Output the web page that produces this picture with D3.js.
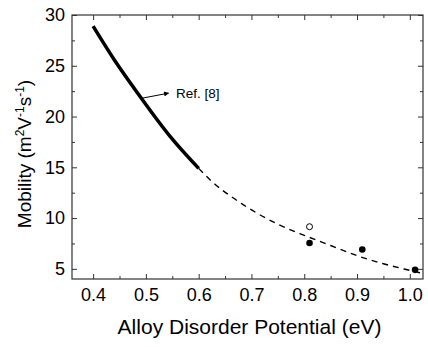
<!DOCTYPE html>
<html>
<head>
<meta charset="utf-8">
<script src="https://cdn.jsdelivr.net/npm/d3@7"></script>
<style>
  body { margin: 0; background: #fff; }
  text { font-family: "Liberation Sans", Arial, sans-serif; fill: #000; }
</style>
</head>
<body>
<div id="chart"></div>
<script>
// values
var refX = [0.40, 0.44, 0.49, 0.545, 0.60];
var refY = [28.9, 25.6, 21.9, 18.1, 14.9];

var fitX = [0.60, 0.625, 0.665, 0.71, 0.75, 0.80, 0.85, 0.90, 0.95, 1.00, 1.02];
var fitY = [14.9, 13.6, 12.0, 10.5, 9.4, 8.3, 7.3, 6.3, 5.5, 4.85, 4.6];

var filledX = [0.81, 0.91, 1.01];
var filledY = [7.55, 6.9, 4.9];
var openX = [0.81];
var openY = [9.15];

var xTicks = [0.4, 0.5, 0.6, 0.7, 0.8, 0.9, 1.0];
var xMinor = [0.45, 0.55, 0.65, 0.75, 0.85, 0.95];
var yTicks = [5, 10, 15, 20, 25, 30];
var yMinor = [7.5, 12.5, 17.5, 22.5, 27.5];

var W = 428, H = 347;
var pL = 72, pR = 423, pT = 15, pB = 279;

var svg = d3.select("#chart").append("svg")
  .attr("width", W).attr("height", H);

var x = d3.scaleLinear().domain([0.36, 1.025]).range([pL, pR]);
var y = d3.scaleLinear().domain([4, 30]).range([pB, pT]);

// minor ticks first, then major (all pointing inward)
var gx = svg.append("g").attr("transform", "translate(0," + pB + ")");
gx.call(d3.axisBottom(x).tickValues(xMinor).tickSizeInner(-3).tickSizeOuter(0).tickFormat(""));
var gx2 = svg.append("g").attr("transform", "translate(0," + pB + ")");
gx2.call(d3.axisBottom(x).tickValues(xTicks).tickSizeInner(-5).tickSizeOuter(0).tickPadding(9).tickFormat(d3.format(".1f")));

var gt = svg.append("g").attr("transform", "translate(0," + pT + ")");
gt.call(d3.axisTop(x).tickValues(xMinor).tickSizeInner(-3).tickSizeOuter(0).tickFormat(""));
var gt2 = svg.append("g").attr("transform", "translate(0," + pT + ")");
gt2.call(d3.axisTop(x).tickValues(xTicks).tickSizeInner(-5).tickSizeOuter(0).tickFormat(""));

var gy = svg.append("g").attr("transform", "translate(" + pL + ",0)");
gy.call(d3.axisLeft(y).tickValues(yMinor).tickSizeInner(-3).tickSizeOuter(0).tickFormat(""));
var gy2 = svg.append("g").attr("transform", "translate(" + pL + ",0)");
gy2.call(d3.axisLeft(y).tickValues(yTicks).tickSizeInner(-5).tickSizeOuter(0).tickPadding(7).tickFormat(d3.format("d")));

var gr = svg.append("g").attr("transform", "translate(" + pR + ",0)");
gr.call(d3.axisRight(y).tickValues(yMinor).tickSizeInner(-3).tickSizeOuter(0).tickFormat(""));
var gr2 = svg.append("g").attr("transform", "translate(" + pR + ",0)");
gr2.call(d3.axisRight(y).tickValues(yTicks).tickSizeInner(-5).tickSizeOuter(0).tickFormat(""));

svg.selectAll(".domain").remove();
svg.selectAll(".tick line").attr("stroke", "#333").attr("stroke-width", 1);
svg.selectAll(".tick text").style("font-size", "18px").attr("fill", "#000");

svg.append("rect")
  .attr("x", pL).attr("y", pT)
  .attr("width", pR - pL).attr("height", pB - pT)
  .attr("fill", "none").attr("stroke", "#333").attr("stroke-width", 1.2);

var line = d3.line()
  .x(function (d) { return x(d[0]); })
  .y(function (d) { return y(d[1]); })
  .curve(d3.curveNatural);

svg.append("path")
  .datum(fitX.map(function (v, i) { return [v, fitY[i]]; }))
  .attr("d", line.curve(d3.curveMonotoneX))
  .attr("fill", "none").attr("stroke", "#000")
  .attr("stroke-width", 1.4).attr("stroke-dasharray", "6,5");

svg.append("path")
  .datum(refX.map(function (v, i) { return [v, refY[i]]; }))
  .attr("d", line.curve(d3.curveNatural))
  .attr("fill", "none").attr("stroke", "#000")
  .attr("stroke-width", 3.5);

svg.selectAll(".filled")
  .data(filledX)
  .enter().append("circle")
  .attr("class", "filled")
  .attr("cx", function (d) { return x(d); })
  .attr("cy", function (d, i) { return y(filledY[i]); })
  .attr("r", 3.3).attr("fill", "#000");

svg.selectAll(".open")
  .data(openX)
  .enter().append("circle")
  .attr("class", "open")
  .attr("cx", function (d) { return x(d); })
  .attr("cy", function (d, i) { return y(openY[i]); })
  .attr("r", 3).attr("fill", "#fff").attr("stroke", "#000").attr("stroke-width", 1);

// annotation arrow
svg.append("defs").append("marker")
  .attr("id", "arr").attr("viewBox", "0 0 10 10")
  .attr("refX", 9).attr("refY", 5)
  .attr("markerWidth", 7).attr("markerHeight", 5)
  .attr("markerUnits", "userSpaceOnUse")
  .attr("orient", "auto")
  .append("path").attr("d", "M0,0L10,5L0,10Z").attr("fill", "#000");

svg.append("line")
  .attr("x1", x(0.492)).attr("y1", y(21.8))
  .attr("x2", x(0.543)).attr("y2", y(22.3))
  .attr("stroke", "#000").attr("stroke-width", 1)
  .attr("marker-end", "url(#arr)");

svg.append("text")
  .attr("x", x(0.557)).attr("y", 98)
  .style("font-size", "13.5px")
  .text("Ref. [8]");

// axis titles
svg.append("text")
  .attr("x", (pL + pR) / 2 + 2).attr("y", 334)
  .attr("text-anchor", "middle")
  .style("font-size", "21px")
  .text("Alloy Disorder Potential (eV)");

var yt = svg.append("text")
  .attr("transform", "translate(31,154) rotate(-90)")
  .attr("text-anchor", "middle")
  .style("font-size", "19px");
yt.append("tspan").text("Mobility (m");
yt.append("tspan").attr("dy", -7).style("font-size", "12px").text("2");
yt.append("tspan").attr("dy", 7).text("V");
yt.append("tspan").attr("dy", -7).style("font-size", "12px").text("-1");
yt.append("tspan").attr("dy", 7).text("s");
yt.append("tspan").attr("dy", -7).style("font-size", "12px").text("-1");
yt.append("tspan").attr("dy", 7).text(")");
</script>
</body>
</html>
